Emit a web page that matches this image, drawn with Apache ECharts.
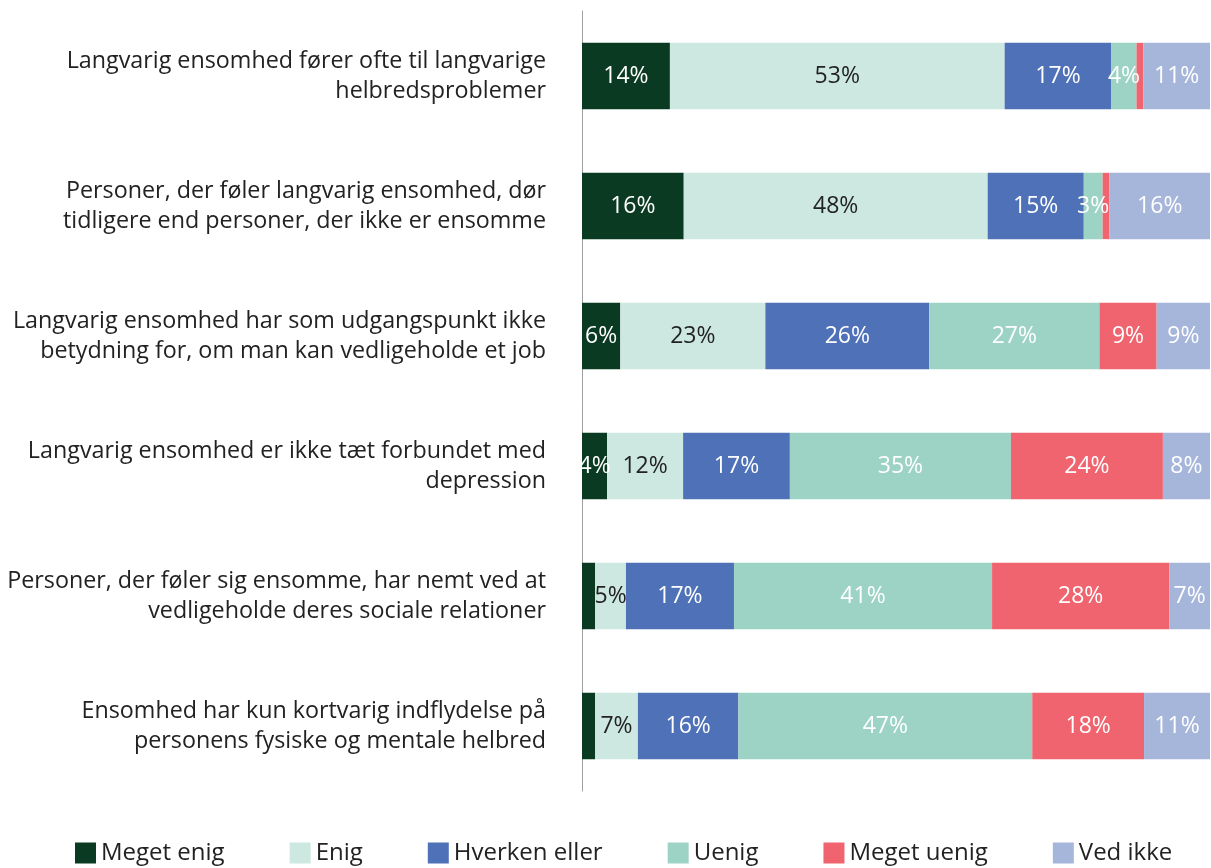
<!DOCTYPE html>
<html>
<head>
<meta charset="utf-8">
<script src="https://cdn.jsdelivr.net/npm/echarts@6/dist/echarts.min.js"></script>
<style>
  html, body { margin: 0; padding: 0; background: #fff; }
  #chart { width: 1211px; height: 868px; }
</style>
</head>
<body>
<div id="chart"></div>
<script>
// statements, top to bottom
const categories = [
  'Langvarig ensomhed fører ofte til langvarige\nhelbredsproblemer',
  'Personer, der føler langvarig ensomhed, dør\ntidligere end personer, der ikke er ensomme',
  'Langvarig ensomhed har som udgangspunkt ikke\nbetydning for, om man kan vedligeholde et job',
  'Langvarig ensomhed er ikke tæt forbundet med\ndepression',
  'Personer, der føler sig ensomme, har nemt ved at\nvedligeholde deres sociale relationer',
  'Ensomhed har kun kortvarig indflydelse på\npersonens fysiske og mentale helbred'
]

const seriesNames = ['Meget enig', 'Enig', 'Hverken eller', 'Uenig', 'Meget uenig', 'Ved ikke']

// shares in percent, per statement
const megetEnig   = [14.0, 16.2, 6.1, 4.0, 2.1, 2.1]
const enig        = [53.3, 48.4, 23.1, 12.1, 4.9, 6.8]
const hverken     = [17.0, 15.3, 26.1, 17.0, 17.2, 16.0]
const uenig       = [4.0, 3.0, 27.1, 35.2, 41.1, 46.8]
const megetUenig  = [1.1, 1.1, 9.1, 24.2, 28.2, 17.8]
const vedIkke     = [10.6, 16.0, 8.5, 7.5, 6.5, 10.5]

const colors = ['#0b3a22', '#cde8e0', '#4f71b8', '#9dd3c4', '#ef646e', '#a6b5da']
const labelColors = ['#fff', '#222', '#fff', '#fff', '#fff', '#fff']
const allValues = [megetEnig, enig, hverken, uenig, megetUenig, vedIkke]

let myChart = echarts.init(document.getElementById('chart'))

const series = seriesNames.map((name, i) => ({
  name,
  type: 'bar',
  stack: 'total',
  barWidth: '51%',
  data: allValues[i],
  itemStyle: { color: colors[i] },
  label: {
    show: true,
    position: 'inside',
    color: labelColors[i],
    fontSize: 23,
    fontFamily: 'Open Sans',
    formatter: p => Math.round(p.value) >= 3 ? Math.round(p.value) + '%' : ''
  }
}))

myChart.setOption({
  animation: false,
  textStyle: { fontFamily: 'Open Sans' },
  grid: { left: 582, right: 1, top: 11, bottom: 77, containLabel: false },
  legend: {
    top: 841,
    left: 75,
    padding: 0,
    itemWidth: 21,
    itemHeight: 21,
    itemGap: 65,
    icon: 'rect',
    textStyle: { fontSize: 24, color: '#222' },
    data: seriesNames
  },
  xAxis: {
    type: 'value',
    min: 0,
    max: 100,
    show: false
  },
  yAxis: {
    type: 'category',
    inverse: true,
    data: categories,
    axisLine: { show: true, lineStyle: { color: '#a0a0a0', width: 1 } },
    axisTick: { show: false },
    axisLabel: {
      color: '#222',
      fontSize: 23.3,
      lineHeight: 30,
      margin: 36,
      align: 'right'
    }
  },
  series
})

window.onresize = function() {
  myChart.resize()
}
</script>
</body>
</html>
